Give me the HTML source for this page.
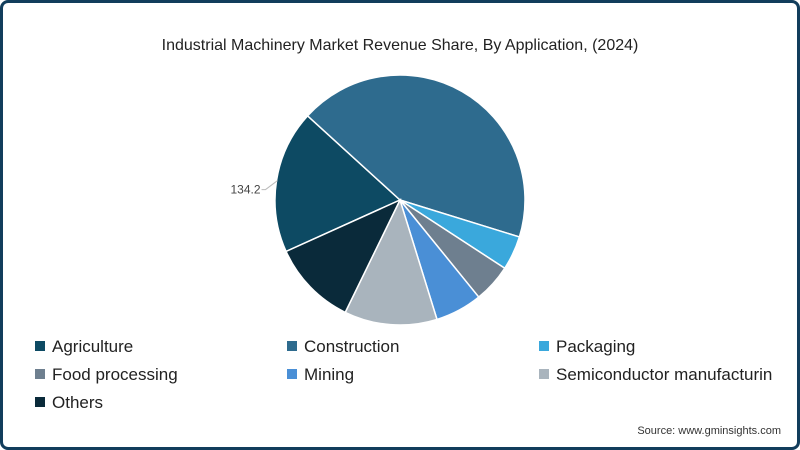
<!DOCTYPE html>
<html><head><meta charset="utf-8"><style>
body{margin:0;background:#fff;}
#wrap{position:relative;width:800px;height:450px;box-sizing:border-box;border:3px solid #123d5c;border-radius:8px;background:#fff;font-family:"Liberation Sans",sans-serif;overflow:hidden;}
.t{position:absolute;left:0;width:794px;top:34px;text-align:center;font-size:16px;color:#222;}
.lg{position:absolute;font-size:17px;color:#222;white-space:nowrap;}
.lg span{display:inline-block;width:10px;height:10px;margin-right:7px;vertical-align:1px;}
.src{position:absolute;right:16px;bottom:10px;font-size:11px;color:#333;}
</style></head><body>
<div id="wrap">
<div class="t">Industrial Machinery Market Revenue Share, By Application, (2024)</div>
<svg id="pie" width="794" height="444" style="position:absolute;left:0;top:0"></svg>
<div class="lg" style="left:32px;top:334px"><span style="background:#0d4a63"></span>Agriculture</div>
<div class="lg" style="left:284px;top:334px"><span style="background:#2e6b8e"></span>Construction</div>
<div class="lg" style="left:536px;top:334px"><span style="background:#3aa8dc"></span>Packaging</div>
<div class="lg" style="left:32px;top:362px"><span style="background:#6e7f8f"></span>Food processing</div>
<div class="lg" style="left:284px;top:362px"><span style="background:#4a8fd6"></span>Mining</div>
<div class="lg" style="left:536px;top:362px"><span style="background:#a9b4bd"></span>Semiconductor manufacturin</div>
<div class="lg" style="left:32px;top:390px"><span style="background:#0a2a3a"></span>Others</div>
<div class="src">Source: www.gminsights.com</div>
</div>
<script>
const categories=["Agriculture","Construction","Packaging","Food processing","Mining","Semiconductor manufacturing","Others"];
const values=[134.2,312,32,36,44,87,80];
const labels=["134.2","","","","","",""];
const colors=["#0d4a63","#2e6b8e","#3aa8dc","#6e7f8f","#4a8fd6","#a9b4bd","#0a2a3a"];
const svg=document.getElementById('pie');
const NS="http://www.w3.org/2000/svg";
const cx=397,cy=197,r=125,start=245.7;
const total=values.reduce((a,b)=>a+b,0);
function pt(a,rr){const t=a*Math.PI/180;return [cx+rr*Math.sin(t),cy-rr*Math.cos(t)];}
let a=start;
values.forEach((v,i)=>{
  const sweep=v/total*360,a2=a+sweep;
  const p1=pt(a,r),p2=pt(a2,r);
  const p=document.createElementNS(NS,'path');
  p.setAttribute('d',`M${cx},${cy}L${p1[0]},${p1[1]}A${r},${r} 0 ${sweep>180?1:0} 1 ${p2[0]},${p2[1]}Z`);
  p.setAttribute('fill',colors[i]);p.setAttribute('stroke','#fff');p.setAttribute('stroke-width','1.5');
  
  
  svg.appendChild(p);
  if(labels[i]){
    const m=a+sweep/2;const e=pt(m,r-1);const q=[e[0]-12,e[1]+9];
    const l=document.createElementNS(NS,'polyline');
    l.setAttribute('points',`${e[0]},${e[1]} ${q[0]},${q[1]} ${q[0]-4},${q[1]}`);
    l.setAttribute('fill','none');l.setAttribute('stroke','#bbb');
    
    
    svg.appendChild(l);
    const t=document.createElementNS(NS,'text');
    t.setAttribute('x',q[0]-5);t.setAttribute('y',q[1]+4);t.setAttribute('text-anchor','end');
    t.setAttribute('font-size','12');t.setAttribute('fill','#444');t.setAttribute('font-family','Liberation Sans, sans-serif');
    t.textContent=labels[i];
    
    
    svg.appendChild(t);
  }
  a=a2;
});
</script>
</body></html>
